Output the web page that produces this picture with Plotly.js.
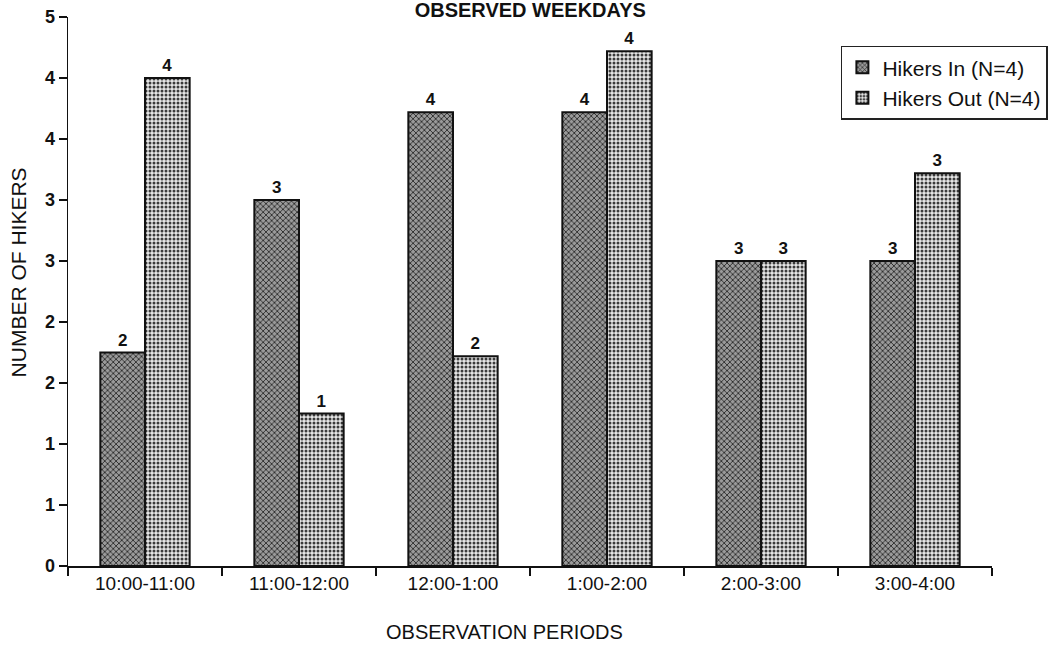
<!DOCTYPE html>
<html>
<head>
<meta charset="utf-8">
<script src="https://cdn.plot.ly/plotly-3.0.1.min.js"></script>
<style>html,body{margin:0;padding:0;background:#fff;}#chart{width:1050px;height:653px;}</style>
</head>
<body>
<div id="chart"></div>
<script>
var periods = ['10:00-11:00','11:00-12:00','12:00-1:00','1:00-2:00','2:00-3:00','3:00-4:00'];
var hikersIn = [1.75, 3.0, 3.72, 3.72, 2.5, 2.5];
var hikersOut = [4.0, 1.25, 1.72, 4.22, 2.5, 3.22];
var inLabels = ['2','3','4','4','3','3'];
var outLabels = ['4','1','2','4','3','3'];
var yTickVals = [0, 0.5, 1, 1.5, 2, 2.5, 3, 3.5, 4, 4.5];
var yTickText = ['0','1','1','2','2','3','3','4','4','5'];
var chartTitle = 'OBSERVED WEEKDAYS';
var xTitle = 'OBSERVATION PERIODS';
var yTitle = 'NUMBER OF HIKERS';

var FONT = 'Liberation Sans, Arial, sans-serif';

var traceIn = {
  type: 'bar', name: 'Hikers In (N=4)', x: periods, y: hikersIn,
  text: inLabels, textposition: 'outside', cliponaxis: false,
  textfont: {family: FONT, size: 17, color: '#111', weight: 'bold'},
  marker: {color: '#6a6a6a', line: {color: '#111', width: 2},
    pattern: {shape: 'x', fgcolor: '#1a1a1a', bgcolor: '#9a9a9a', size: 4, solidity: 0.35}}
};
var traceOut = {
  type: 'bar', name: 'Hikers Out (N=4)', x: periods, y: hikersOut,
  text: outLabels, textposition: 'outside', cliponaxis: false,
  textfont: {family: FONT, size: 17, color: '#111', weight: 'bold'},
  marker: {color: '#c8c8c8', line: {color: '#111', width: 2},
    pattern: {shape: '.', fgcolor: '#3a3a3a', bgcolor: '#e6e6e6', size: 4, solidity: 0.45}}
};

var layout = {
  width: 1050, height: 653,
  paper_bgcolor: '#fff', plot_bgcolor: '#fff',
  margin: {l: 68, r: 58, t: 17, b: 87, autoexpand: false},
  font: {family: FONT, color: '#111'},
  title: {text: chartTitle, font: {family: FONT, size: 20, weight: 'bold', color: '#111'},
    x: 0.505, xanchor: 'center', y: 0.996, yanchor: 'top', yref: 'container', pad: {t: 0}},
  barmode: 'group', bargap: 0.42, bargroupgap: 0,
  showlegend: true,
  legend: {xref: 'container', yref: 'container', x: 0.998, y: 0.93, xanchor: 'right', yanchor: 'top',
    bgcolor: '#fff', bordercolor: '#222', borderwidth: 1.5,
    font: {family: FONT, size: 21, color: '#111'}, itemwidth: 30, tracegroupgap: 0},
  xaxis: {
    type: 'category', showline: true, linecolor: '#111', linewidth: 1.5,
    ticks: 'outside', tickson: 'boundaries', ticklen: 8, tickcolor: '#111', tickwidth: 1.5,
    showgrid: false, zeroline: false, automargin: false,
    tickfont: {family: FONT, size: 19, color: '#111'}
  },
  yaxis: {
    range: [0, 4.5], showline: true, linecolor: '#111', linewidth: 1.5,
    tickmode: 'array', tickvals: yTickVals, ticktext: yTickText,
    ticks: 'outside', ticklen: 8, tickcolor: '#111', tickwidth: 1.5,
    showgrid: false, zeroline: false, automargin: false,
    tickfont: {family: FONT, size: 18, color: '#111', weight: 'bold'}
  },
  yaxis2: {
    overlaying: 'y', side: 'left', range: [0, 4.5], showline: false,
    tickmode: 'array', tickvals: yTickVals,
    ticks: 'inside', ticklen: 6, tickcolor: '#111', tickwidth: 1.5,
    showgrid: false, zeroline: false, showticklabels: false
  },
  annotations: [
    {text: xTitle, xref: 'paper', yref: 'paper', x: 0.472, y: -0.12, xanchor: 'center', yanchor: 'middle',
     showarrow: false, font: {family: FONT, size: 20, color: '#111'}},
    {text: yTitle, xref: 'paper', yref: 'paper', x: -0.054, y: 0.535, xanchor: 'center', yanchor: 'middle',
     textangle: -90, showarrow: false, font: {family: FONT, size: 21, color: '#111'}}
  ]
};

Plotly.newPlot('chart', [traceIn, traceOut], layout, {displayModeBar: false, staticPlot: true});
</script>
</body>
</html>
